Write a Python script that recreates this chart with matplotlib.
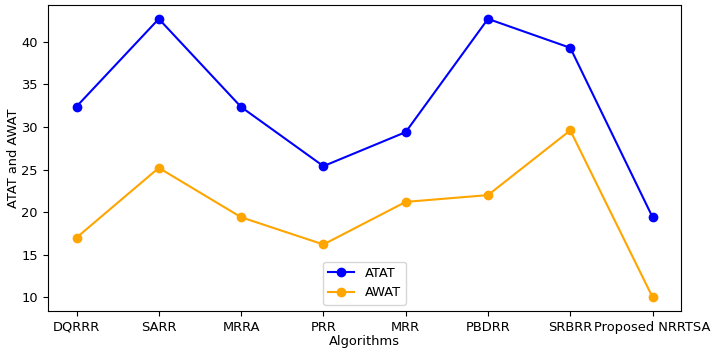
import matplotlib
matplotlib.use("Agg")
import matplotlib.pyplot as plt

plt.rcParams['font.size'] = 9.4

# Data
algorithms = ["DQRRR", "SARR", "MRRA", "PRR", "MRR", "PBDRR", "SRBRR", "Proposed NRRTSA"]
atat = [32.4, 42.7, 32.35, 25.4, 29.4, 42.7, 39.3, 19.4]
awat = [17.0, 25.2, 19.4, 16.2, 21.2, 22.0, 29.6, 10.0]

fig, ax = plt.subplots(figsize=(7.12, 3.54), dpi=100)

ax.plot(algorithms, atat, marker='o', color='blue', label='ATAT')
ax.plot(algorithms, awat, marker='o', color='orange', label='AWAT')

ax.set_xlabel('Algorithms', labelpad=1)
ax.set_ylabel('ATAT and AWAT', labelpad=1)
ax.legend(loc='lower center')

fig.subplots_adjust(left=0.067, right=0.957, top=0.986, bottom=0.121)
fig.savefig('out.png')
